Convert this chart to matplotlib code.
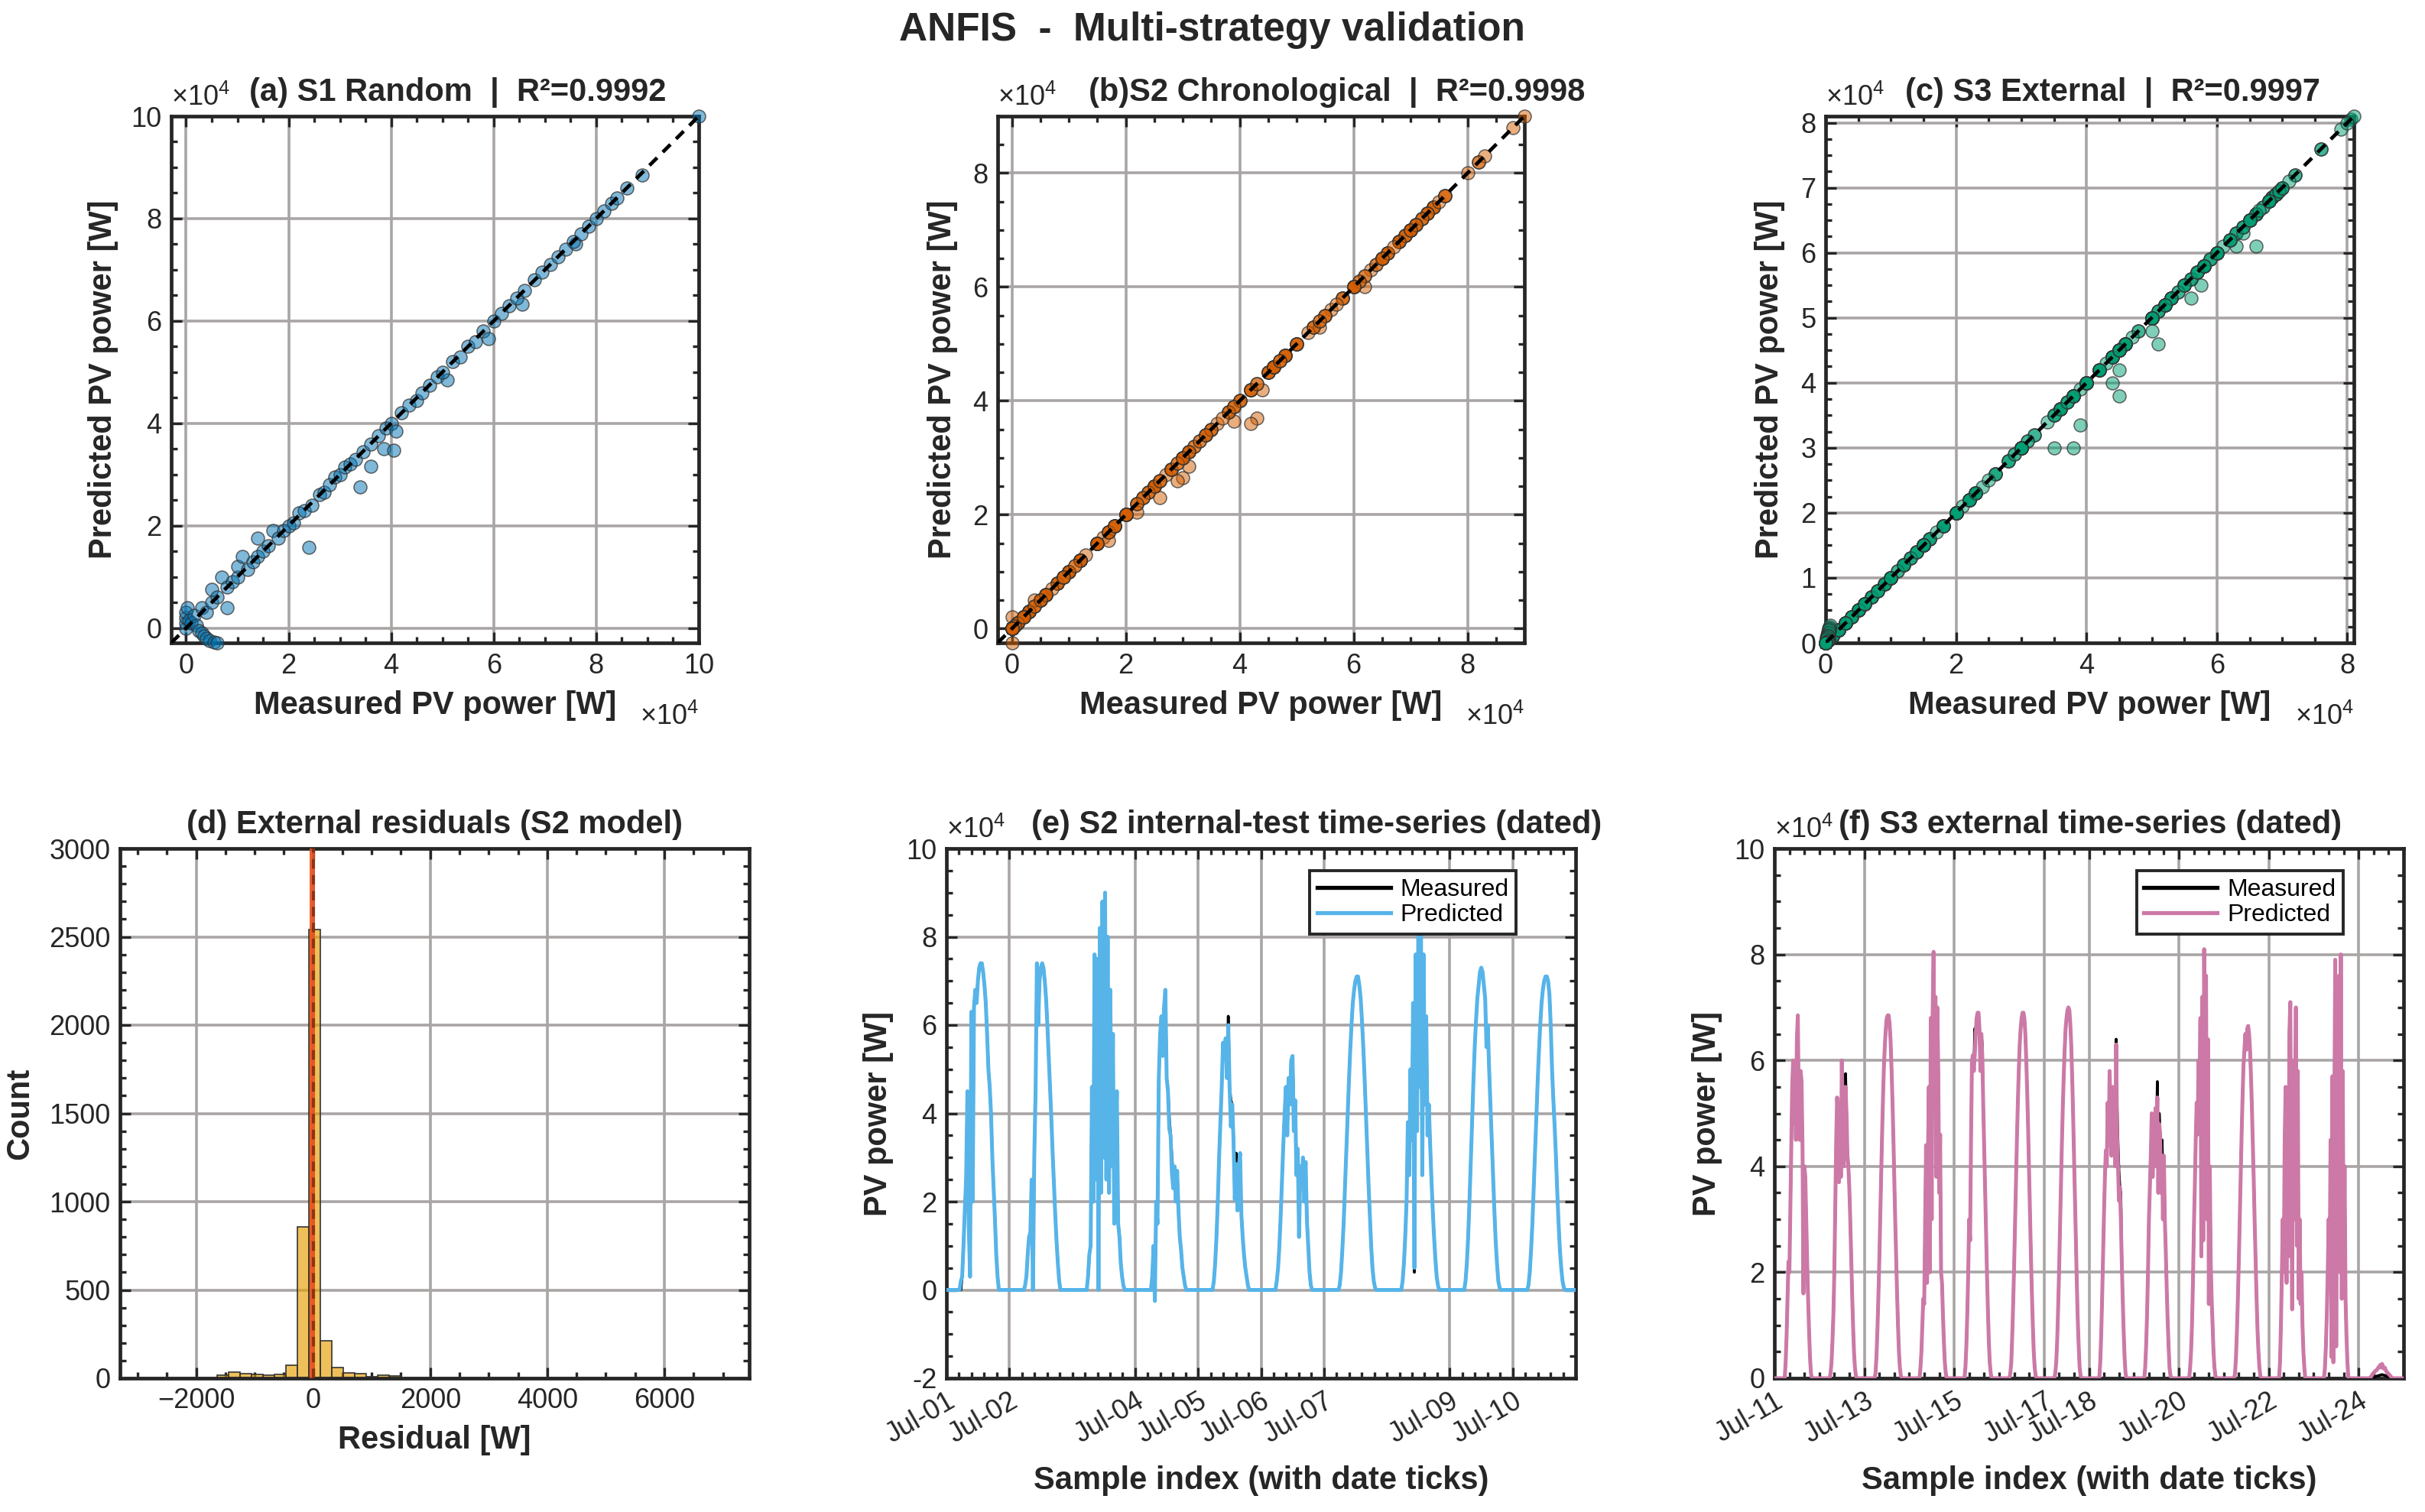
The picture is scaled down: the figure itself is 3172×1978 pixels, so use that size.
import numpy as np
import matplotlib
matplotlib.use("Agg")
import matplotlib.pyplot as plt
from matplotlib.ticker import FixedLocator, MultipleLocator, FuncFormatter
from matplotlib.colors import to_rgba

plt.rcParams["font.family"] = ["Liberation Sans", "DejaVu Sans"]
plt.rcParams["mathtext.fontset"] = "custom"
plt.rcParams["mathtext.rm"] = "Liberation Sans"
plt.rcParams["mathtext.it"] = "Liberation Sans:italic"
plt.rcParams["mathtext.bf"] = "Liberation Sans:bold"

# ---------------- data (power values in units of 1e4 W) ----------------
# (a) S1 random split: measured / predicted pairs
S1_MEAS = [0.0, 0.0, 0.0, 0.0, 0.02, 0.05, 0.1, 0.15, 0.2, 0.25, 0.3, 0.35, 0.4, 0.45,
           0.55, 0.6, 0.3, 0.4, 0.5, 0.5, 0.6, 0.7, 0.8, 0.8, 0.9, 1.0, 1.0, 1.1, 1.2,
           1.3, 1.4, 1.4, 1.5, 1.6, 1.7, 1.8, 1.9, 2.0, 2.1, 2.2, 2.3, 2.4, 2.45, 2.6,
           2.7, 2.8, 2.9, 3.0, 3.1, 3.2, 3.3, 3.4, 3.45, 3.6, 3.6, 3.75, 3.85, 3.9,
           4.05, 4.0, 4.1, 4.2, 4.35, 4.5, 4.6, 4.75, 4.9, 5.1, 5.0, 5.2, 5.35, 5.5,
           5.65, 5.8, 5.9, 6.0, 6.15, 6.3, 6.55, 6.45, 6.6, 6.8, 6.95, 7.1, 7.25, 7.4,
           7.6, 7.55, 7.7, 7.85, 8.0, 8.15, 8.3, 8.4, 8.6, 8.9, 10.0]
S1_PRED = [0.0, 0.1, 0.2, 0.3, 0.4, 0.15, 0.1, 0.25, 0.05, -0.05, -0.1, -0.15, -0.2, -0.25,
           -0.27, -0.29, 0.4, 0.3, 0.5, 0.75, 0.6, 1.0, 0.4, 0.8, 0.9, 1.0, 1.2, 1.4, 1.15,
           1.3, 1.75, 1.4, 1.5, 1.6, 1.9, 1.75, 1.9, 2.0, 2.05, 2.25, 2.3, 1.58, 2.4, 2.6,
           2.65, 2.8, 2.95, 3.0, 3.15, 3.2, 3.3, 2.76, 3.45, 3.16, 3.6, 3.75, 3.51, 3.9,
           3.48, 4.0, 3.85, 4.2, 4.35, 4.45, 4.6, 4.75, 4.9, 4.85, 5.0, 5.2, 5.3, 5.5,
           5.6, 5.8, 5.65, 6.0, 6.15, 6.3, 6.32, 6.45, 6.6, 6.8, 6.95, 7.1, 7.25, 7.4,
           7.5, 7.55, 7.7, 7.85, 8.0, 8.15, 8.3, 8.4, 8.6, 8.85, 10.0]
S1_R2 = 0.9992

# time series: one daytime profile per day (30 samples, 30-min step from 05:30)
SAMPLES_PER_DAY = 48
SUNRISE_IDX = 11

# (e) S2 internal test, Jul-01 .. Jul-10, predicted
S2_PRED = [
    [0.2, 0.3, 1.0, 1.8, 2.5, 4.5, 1.5, 0.3, 6.3, 2.0, 6.4, 6.8, 6.5, 7.0, 7.3, 7.4, 7.4, 7.2, 6.9, 6.5, 5.8, 5.0, 4.6, 4.0, 3.0, 2.3, 1.6, 0.8, 0.3, 0.0],
    [0.0, 0.1, 0.3, 0.8, 1.2, 1.3, 2.5, 0.0, 3.0, 4.5, 7.4, 6.0, 7.0, 7.3, 7.4, 7.3, 7.0, 6.6, 6.0, 5.3, 4.6, 3.9, 3.1, 2.4, 1.7, 1.1, 0.6, 0.2, 0.0, 0.0],
    [0.0, 0.3, 0.8, 1.0, 4.6, 2.0, 7.6, 2.5, 7.5, 0.0, 8.2, 2.2, 8.8, 3.0, 9.0, 2.5, 8.0, 2.2, 6.8, 2.8, 5.8, 1.5, 3.4, 4.5, 1.5, 1.2, 0.6, 0.3, 0.1, 0.0],
    [0.0, 0.0, 0.3, 1.0, -0.25, 2.0, 1.5, 4.8, 5.8, 6.2, 5.3, 6.4, 6.8, 4.8, 4.5, 3.65, 3.5, 2.65, 2.3, 2.8, 2.0, 2.7, 1.8, 1.2, 0.9, 0.5, 0.3, 0.1, 0.0, 0.0],
    [0.0, 0.2, 0.6, 1.2, 2.0, 3.0, 3.8, 4.6, 5.6, 5.3, 5.7, 4.8, 6.0, 4.6, 3.7, 4.2, 3.4, 2.05, 2.85, 1.8, 2.8, 3.1, 1.7, 1.2, 0.8, 0.5, 0.3, 0.1, 0.0, 0.0],
    [0.0, 0.2, 0.5, 1.0, 1.7, 2.5, 3.3, 4.0, 4.6, 3.5, 4.8, 4.2, 5.2, 5.3, 3.6, 4.3, 2.6, 3.2, 1.2, 2.8, 2.4, 3.0, 2.0, 2.9, 1.55, 1.0, 0.4, 0.1, 0.0, 0.0],
    [0.0, 0.1, 0.4, 0.9, 1.5, 2.3, 3.1, 3.9, 4.7, 5.4, 6.0, 6.5, 6.8, 7.0, 7.1, 7.1, 6.9, 6.6, 6.1, 5.5, 4.8, 4.0, 3.2, 2.4, 1.7, 1.0, 0.5, 0.2, 0.05, 0.0],
    [0.0, 0.2, 0.6, 1.2, 2.0, 3.8, 2.6, 5.0, 3.4, 6.5, 0.5, 7.6, 3.6, 8.3, 4.6, 8.2, 2.6, 7.6, 4.2, 6.2, 3.5, 4.2, 3.3, 2.5, 1.8, 1.2, 0.7, 0.3, 0.1, 0.0],
    [0.0, 0.2, 0.6, 1.2, 2.0, 2.9, 3.8, 4.7, 5.5, 6.1, 6.6, 6.9, 7.2, 7.3, 7.2, 6.9, 6.6, 5.5, 6.0, 5.0, 4.2, 3.4, 2.6, 1.8, 1.1, 0.6, 0.2, 0.05, 0.0, 0.0],
    [0.0, 0.1, 0.4, 0.9, 1.5, 2.3, 3.1, 3.9, 4.7, 5.4, 6.0, 6.5, 6.8, 7.0, 7.1, 7.1, 7.0, 6.7, 6.0, 5.0, 4.3, 3.7, 3.0, 2.2, 1.5, 0.9, 0.5, 0.2, 0.05, 0.0],
]
# samples where the measured value differs from the prediction: (day, sample, measured)
S2_MEAS_FIX = [(0, 0, 0.0), (3, 4, 0.0), (3, 15, 3.9), (3, 17, 3.0), (3, 18, 2.6),
               (4, 9, 5.4), (4, 12, 6.2), (4, 14, 4.3), (4, 17, 2.2), (4, 18, 3.1),
               (5, 11, 4.4), (5, 14, 4.2), (5, 16, 2.9), (5, 24, 1.7), (7, 10, 0.4)]
S2_R2 = 0.9998
S2_TICK_DAYS = [0, 1, 3, 4, 5, 6, 8, 9]
S2_TICK_LABELS = ["Jul-01", "Jul-02", "Jul-04", "Jul-05", "Jul-06", "Jul-07", "Jul-09", "Jul-10"]

# (f) S3 external, Jul-11 .. Jul-24, predicted
S3_PRED = [
    [0.0, 0.3, 0.8, 1.5, 2.2, 2.0, 3.2, 4.5, 5.5, 6.0, 4.8, 5.6, 4.5, 6.4, 6.85, 5.2, 4.5, 5.8, 5.6, 4.4, 1.6, 4.0, 3.8, 3.0, 2.2, 1.5, 0.9, 0.4, 0.1, 0.0],
    [0.0, 0.1, 0.3, 0.7, 1.2, 2.0, 3.2, 4.5, 5.3, 4.8, 3.7, 5.2, 3.8, 6.0, 5.0, 4.0, 4.4, 5.5, 5.0, 4.2, 4.0, 3.6, 3.0, 2.3, 1.6, 1.0, 0.5, 0.2, 0.05, 0.0],
    [0.0, 0.1, 0.4, 0.9, 1.5, 2.2, 3.0, 3.8, 4.6, 5.3, 5.9, 6.3, 6.6, 6.8, 6.85, 6.85, 6.7, 6.4, 5.9, 5.3, 4.6, 3.8, 3.0, 2.3, 1.6, 1.0, 0.5, 0.2, 0.05, 0.0],
    [0.0, 0.2, 0.5, 1.0, 1.5, 1.4, 3.0, 4.4, 1.8, 4.2, 5.5, 2.0, 6.8, 3.0, 6.9, 8.05, 5.0, 7.2, 3.8, 7.0, 5.8, 3.5, 4.6, 2.0, 1.8, 1.2, 0.7, 0.3, 0.1, 0.0],
    [0.0, 0.2, 0.6, 1.2, 2.0, 3.0, 2.6, 4.5, 6.0, 6.1, 5.8, 6.1, 6.5, 6.8, 6.9, 6.9, 6.6, 5.8, 6.5, 6.1, 5.2, 4.4, 3.6, 2.8, 2.0, 1.3, 0.7, 0.3, 0.1, 0.0],
    [0.0, 0.1, 0.3, 0.8, 1.4, 2.1, 2.9, 3.7, 4.5, 5.2, 5.8, 6.3, 6.6, 6.8, 6.9, 6.9, 6.8, 6.5, 6.0, 5.4, 4.7, 3.9, 3.1, 2.3, 1.6, 1.0, 0.5, 0.2, 0.05, 0.0],
    [0.0, 0.1, 0.3, 0.7, 1.3, 2.0, 2.8, 3.6, 4.4, 5.1, 5.7, 6.2, 6.6, 6.8, 6.95, 7.0, 6.95, 6.7, 6.3, 5.7, 5.0, 4.2, 3.4, 2.6, 1.8, 1.1, 0.6, 0.2, 0.05, 0.0],
    [0.0, 0.3, 0.8, 1.5, 2.3, 3.1, 3.8, 4.3, 4.0, 5.2, 4.4, 5.8, 5.0, 4.2, 5.5, 4.6, 5.3, 4.0, 6.3, 4.6, 4.0, 3.35, 3.6, 3.0, 2.2, 1.5, 0.9, 0.4, 0.1, 0.0],
    [0.0, 0.2, 0.6, 1.2, 2.0, 3.0, 3.6, 4.2, 5.0, 3.8, 4.6, 4.0, 5.1, 4.5, 5.3, 3.5, 4.8, 4.6, 3.5, 4.2, 3.0, 4.2, 3.0, 2.4, 1.7, 1.1, 0.6, 0.2, 0.05, 0.0],
    [0.0, 0.2, 0.5, 1.0, 1.8, 2.8, 3.6, 4.5, 5.2, 4.6, 6.0, 5.4, 6.8, 2.3, 7.2, 2.6, 8.1, 5.6, 7.6, 3.0, 6.4, 1.4, 4.0, 2.2, 1.5, 1.0, 0.5, 0.2, 0.05, 0.0],
    [0.0, 0.1, 0.4, 0.9, 1.5, 2.2, 3.0, 3.8, 4.6, 5.3, 5.9, 6.2, 6.5, 6.2, 6.6, 6.65, 6.5, 6.2, 5.7, 5.1, 4.4, 3.7, 2.9, 2.2, 1.5, 0.9, 0.5, 0.2, 0.05, 0.0],
    [0.0, 0.3, 1.0, 2.0, 3.0, 2.0, 4.5, 5.5, 1.8, 5.2, 2.3, 6.5, 7.1, 4.0, 1.3, 6.0, 3.0, 5.0, 7.0, 2.5, 5.8, 1.5, 3.0, 1.4, 2.0, 1.0, 0.5, 0.2, 0.0, 0.0],
    [0.0, 0.2, 0.6, 1.2, 2.0, 3.0, 2.0, 4.5, 0.4, 5.7, 0.3, 5.0, 7.9, 0.6, 5.0, 3.8, 7.6, 2.0, 8.0, 1.5, 5.8, 2.0, 4.0, 1.5, 0.8, 0.3, 0.0, 0.0, 0.0, 0.0],
    [0.0, 0.0, 0.02, 0.05, 0.08, 0.1, 0.12, 0.14, 0.15, 0.17, 0.2, 0.22, 0.25, 0.2, 0.27, 0.22, 0.18, 0.2, 0.15, 0.12, 0.1, 0.08, 0.06, 0.04, 0.02, 0.0, 0.0, 0.0, 0.0, 0.0],
]
S3_MEAS_FIX = [(1, 17, 5.75), (4, 11, 6.6), (4, 19, 6.3), (7, 18, 6.4), (7, 19, 5.1),
               (7, 20, 4.4), (7, 21, 3.9), (7, 23, 3.5), (8, 9, 4.5), (8, 14, 5.6),
               (8, 16, 5.0), (8, 19, 4.5), (8, 20, 3.8),
               (13, 4, 0.01), (13, 5, 0.02), (13, 6, 0.02), (13, 7, 0.03), (13, 8, 0.04),
               (13, 9, 0.04), (13, 10, 0.05), (13, 11, 0.05), (13, 12, 0.06), (13, 13, 0.06),
               (13, 14, 0.07), (13, 15, 0.06), (13, 16, 0.06), (13, 17, 0.05), (13, 18, 0.05),
               (13, 19, 0.04), (13, 20, 0.03), (13, 21, 0.02), (13, 22, 0.01)]
S3_R2 = 0.9997
S3_TICK_DAYS = [0, 2, 4, 6, 7, 9, 11, 13]
S3_TICK_LABELS = ["Jul-11", "Jul-13", "Jul-15", "Jul-17", "Jul-18", "Jul-20", "Jul-22", "Jul-24"]

# (d) external residual histogram (S2 model), W
HIST_EDGES = [-1640, -1444, -1248, -1052, -856, -660, -464, -268, -72, 124, 320,
              516, 712, 908, 1104, 1300, 1496]
HIST_COUNTS = [17, 35, 26, 22, 17, 22, 74, 855, 2540, 213, 61, 30, 26, 10, 19, 14]
RESID_MEAN = -15

# ---------------- helpers ----------------
AX_COLOR = "#262626"
GRID_COLOR = "#a9a5a5"
TICK_FS = 26
LABEL_FS = 30
TITLE_FS = 30


def build_series(days, fixes):
    pred = np.zeros(len(days) * SAMPLES_PER_DAY)
    for d, prof in enumerate(days):
        start = d * SAMPLES_PER_DAY + SUNRISE_IDX
        pred[start:start + len(prof)] = prof
    meas = pred.copy()
    for d, i, v in fixes:
        meas[d * SAMPLES_PER_DAY + SUNRISE_IDX + i] = v
    return meas * 1e4, pred * 1e4


def style_axes(ax):
    for sp in ax.spines.values():
        sp.set_linewidth(3.4)
        sp.set_color(AX_COLOR)
    ax.tick_params(which="both", direction="in", top=True, right=True,
                   width=2.4, color=AX_COLOR, labelcolor=AX_COLOR, labelsize=TICK_FS, pad=9)
    ax.tick_params(which="major", length=10)
    ax.tick_params(which="minor", length=5.5)
    ax.grid(True, which="major", color=GRID_COLOR, lw=2.6)
    ax.set_axisbelow(True)


def e4(v, p):
    return f"{v / 1e4:g}"


def exp_label(ax, x, y, ha="left", va="bottom"):
    ax.text(x, y, r"$\times\mathregular{10^4}$", transform=ax.transAxes,
            ha=ha, va=va, fontsize=26, color=AX_COLOR)


def scatter_panel(ax, meas, pred, color, title, title_x, ytick_step, yminor, ylab_x):
    meas = np.asarray(meas)
    pred = np.asarray(pred)
    lo = min(meas.min(), pred.min())
    hi = max(meas.max(), pred.max())
    ax.scatter(meas, pred, s=150, facecolor=to_rgba(color, 0.5),
               edgecolor=(0.2, 0.2, 0.2, 0.75), linewidth=1.1, clip_on=False, zorder=3)
    ax.plot([lo, hi], [lo, hi], "k--", lw=3.4, dashes=(3, 2.2), zorder=4)
    ax.set_xlim(lo, hi)
    ax.set_ylim(lo, hi)
    style_axes(ax)
    ax.xaxis.set_major_locator(MultipleLocator(2e4))
    ax.yaxis.set_major_locator(MultipleLocator(ytick_step))
    ax.xaxis.set_minor_locator(MultipleLocator(0.5e4))
    ax.yaxis.set_minor_locator(MultipleLocator(yminor))
    ax.xaxis.set_major_formatter(FuncFormatter(e4))
    ax.yaxis.set_major_formatter(FuncFormatter(e4))
    ax.set_xlabel("Measured PV power [W]", fontsize=LABEL_FS, weight="bold", color=AX_COLOR)
    ax.set_ylabel("Predicted PV power [W]", fontsize=LABEL_FS, weight="bold", color=AX_COLOR)
    ax.xaxis.set_label_coords(0.5, -0.09)
    ax.yaxis.set_label_coords(ylab_x, 0.5)
    exp_label(ax, 0.0, 1.008)
    exp_label(ax, 1.0, -0.14, ha="right", va="center")
    ax.text(title_x, 1.016, title, transform=ax.transAxes, ha="center", va="bottom",
            fontsize=TITLE_FS, weight="bold", color=AX_COLOR)


def series_panel(ax, meas, pred, color, ticks_days, tick_labels, ylim, minor_x,
                 title, title_x, ylab_x, leg_x):
    x = np.arange(len(pred))
    ax.plot(x, meas, color="black", lw=2.6, label="Measured", zorder=3)
    ax.plot(x, pred, color=color, lw=3.6, label="Predicted", zorder=4)
    ax.set_xlim(0, len(pred))
    ax.set_ylim(*ylim)
    style_axes(ax)
    ax.xaxis.set_major_locator(FixedLocator([d * SAMPLES_PER_DAY for d in ticks_days]))
    ax.set_xticklabels(tick_labels, rotation=30, ha="right", rotation_mode="anchor")
    ax.xaxis.set_minor_locator(MultipleLocator(minor_x))
    ax.yaxis.set_major_locator(MultipleLocator(2e4))
    ax.yaxis.set_minor_locator(MultipleLocator(0.5e4))
    ax.yaxis.set_major_formatter(FuncFormatter(e4))
    ax.set_xlabel("Sample index (with date ticks)", fontsize=LABEL_FS, weight="bold", color=AX_COLOR)
    ax.set_ylabel("PV power [W]", fontsize=LABEL_FS, weight="bold", color=AX_COLOR)
    ax.xaxis.set_label_coords(0.5, -0.165)
    ax.yaxis.set_label_coords(ylab_x, 0.5)
    exp_label(ax, 0.0, 1.008)
    ax.text(title_x, 1.016, title, transform=ax.transAxes, ha="center", va="bottom",
            fontsize=TITLE_FS, weight="bold", color=AX_COLOR)
    leg = ax.legend(loc="upper right", bbox_to_anchor=(leg_x, 0.981), fontsize=23,
                    frameon=True, fancybox=False, edgecolor=AX_COLOR, framealpha=1,
                    handlelength=3.0, borderpad=0.3, labelspacing=0.1, handletextpad=0.4)
    leg.get_frame().set_linewidth(2.8)
    for ln in leg.get_lines():
        ln.set_linewidth(3.8)


# ---------------- figure ----------------
fig = plt.figure(figsize=(31.72, 19.78), dpi=100)
W, H = 3172, 1978


def add_ax(x0, x1, y0, y1):
    return fig.add_axes([x0 / W, 1 - y1 / H, (x1 - x0) / W, (y1 - y0) / H])


ax_a = add_ax(224, 914, 152, 841)
ax_b = add_ax(1305, 1994, 152, 841)
ax_c = add_ax(2388, 3079, 152, 841)
ax_d = add_ax(157, 980, 1110, 1803)
ax_e = add_ax(1238, 2061, 1110, 1803)
ax_f = add_ax(2321, 3144, 1110, 1803)

s2_meas, s2_pred = build_series(S2_PRED, S2_MEAS_FIX)
s3_meas, s3_pred = build_series(S3_PRED, S3_MEAS_FIX)

scatter_panel(ax_a, np.array(S1_MEAS) * 1e4, np.array(S1_PRED) * 1e4, "#0072B2",
              f"(a) S1 Random  |  R²={S1_R2:.4f}", 0.543, 2e4, 0.5e4, -0.100)
scatter_panel(ax_b, s2_meas, s2_pred, "#D55E00",
              f"(b)S2 Chronological  |  R²={S2_R2:.4f}", 0.644, 2e4, 0.5e4, -0.075)
scatter_panel(ax_c, s3_meas, s3_pred, "#009E73",
              f"(c) S3 External  |  R²={S3_R2:.4f}", 0.543, 1e4, 0.25e4, -0.077)

# (d) histogram
edges = np.array(HIST_EDGES)
ax_d.bar(edges[:-1], HIST_COUNTS, width=np.diff(edges), align="edge",
         facecolor=to_rgba("#E69F00", 0.65), edgecolor="#333333", linewidth=1.2, zorder=2)
ax_d.axvline(RESID_MEAN, color="#E8501E", lw=5, alpha=0.9, zorder=3)
ax_d.axvline(0, color="#5a1a0a", lw=3, ls="--", dashes=(3, 2), alpha=0.6, zorder=4)
ax_d.set_xlim(-3300, 7450)
ax_d.set_ylim(0, 3000)
style_axes(ax_d)
ax_d.xaxis.set_major_locator(MultipleLocator(2000))
ax_d.xaxis.set_minor_locator(MultipleLocator(500))
ax_d.yaxis.set_major_locator(MultipleLocator(500))
ax_d.yaxis.set_minor_locator(MultipleLocator(100))
ax_d.set_xlabel("Residual [W]", fontsize=LABEL_FS, weight="bold", color=AX_COLOR)
ax_d.set_ylabel("Count", fontsize=LABEL_FS, weight="bold", color=AX_COLOR)
ax_d.xaxis.set_label_coords(0.5, -0.088)
ax_d.yaxis.set_label_coords(-0.135, 0.5)
ax_d.text(0.5, 1.016, "(d) External residuals (S2 model)", transform=ax_d.transAxes,
          ha="center", va="bottom", fontsize=TITLE_FS, weight="bold", color=AX_COLOR)

series_panel(ax_e, s2_meas, s2_pred, "#56B4E9", S2_TICK_DAYS, S2_TICK_LABELS,
             (-2e4, 10e4), SAMPLES_PER_DAY / 5,
             "(e) S2 internal-test time-series (dated)", 0.588, -0.084, 0.925)
series_panel(ax_f, s3_meas, s3_pred, "#CC79A7", S3_TICK_DAYS, S3_TICK_LABELS,
             (0, 10e4), SAMPLES_PER_DAY / 3,
             "(f) S3 external time-series (dated)", 0.502, -0.083, 0.923)

fig.text(0.5, 0.98, "ANFIS  -  Multi-strategy validation", ha="center", va="center",
         fontsize=37, weight="bold", color=AX_COLOR)

fig.savefig("out.png", dpi=100, facecolor="white")
